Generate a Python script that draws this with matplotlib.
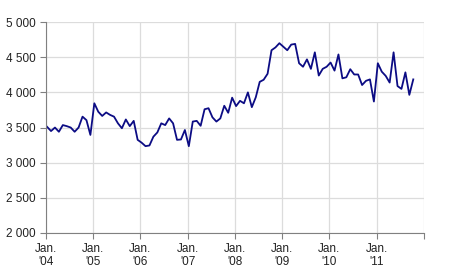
import numpy as np
import matplotlib
matplotlib.use("Agg")
import matplotlib.pyplot as plt

plt.rcParams["font.family"] = ["Liberation Sans", "DejaVu Sans"]

# monthly values, Jan 2004 -> Oct 2011
v2004 = [3510, 3450, 3500, 3440, 3535, 3520, 3500, 3440, 3500, 3655, 3605, 3395]
v2005 = [3845, 3725, 3665, 3715, 3680, 3655, 3560, 3490, 3615, 3520, 3595, 3325]
v2006 = [3285, 3235, 3245, 3370, 3430, 3560, 3535, 3630, 3560, 3325, 3330, 3465]
v2007 = [3235, 3585, 3595, 3525, 3760, 3775, 3645, 3585, 3630, 3810, 3710, 3925]
v2008 = [3805, 3880, 3845, 4000, 3790, 3930, 4150, 4180, 4265, 4600, 4640, 4700]
v2009 = [4650, 4600, 4680, 4690, 4415, 4365, 4470, 4335, 4570, 4240, 4335, 4365]
v2010 = [4425, 4310, 4540, 4200, 4215, 4330, 4255, 4255, 4105, 4165, 4185, 3870]
v2011 = [4415, 4295, 4235, 4140, 4570, 4090, 4050, 4285, 3965, 4185]

values = v2004 + v2005 + v2006 + v2007 + v2008 + v2009 + v2010 + v2011
year_labels = ["Jan.\n'04", "Jan.\n'05", "Jan.\n'06", "Jan.\n'07",
               "Jan.\n'08", "Jan.\n'09", "Jan.\n'10", "Jan.\n'11", ""]
y_ticks = [2000, 2500, 3000, 3500, 4000, 4500, 5000]

fig = plt.figure(figsize=(4.5, 2.8), dpi=100)
ax = fig.add_axes([0.102, 0.168, 0.84, 0.753])

x = np.arange(len(values)) + 0.3
ax.plot(x, values, color="#0c0c84", lw=1.3)

ax.set_xlim(0, 96)
ax.set_ylim(2000, 5000)
ax.set_xticks(np.arange(0, 97, 12))
ax.set_xticklabels(year_labels)
ax.set_yticks(y_ticks)
ax.set_yticklabels([f"{t:,}".replace(",", " ") for t in y_ticks])

ax.grid(True, color="#dcdcdc", lw=0.9)
ax.set_axisbelow(True)
for s in ["top", "right"]:
    ax.spines[s].set_visible(False)
for s in ["left", "bottom"]:
    ax.spines[s].set_color("#808080")
ax.tick_params(axis="both", colors="#808080", labelcolor="#222222",
               labelsize=8.5, length=4, width=0.8)
ax.tick_params(axis="x", pad=3)

fig.savefig("out.png", dpi=100)
